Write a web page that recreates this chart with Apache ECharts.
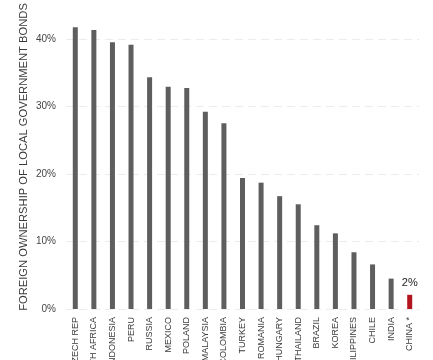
<!DOCTYPE html>
<html>
<head>
<meta charset="utf-8">
<script src="https://cdn.jsdelivr.net/npm/echarts@6/dist/echarts.min.js"></script>
<style>
html,body{margin:0;padding:0;background:#fff;}
#chart{width:433px;height:360px;}
</style>
</head>
<body>
<div id="chart"></div>
<script>
var categories = ['CZECH REP','SOUTH AFRICA','INDONESIA','PERU','RUSSIA','MEXICO','POLAND','MALAYSIA','COLOMBIA','TURKEY','ROMANIA','HUNGARY','THAILAND','BRAZIL','KOREA','PHILIPPINES','CHILE','INDIA','CHINA *'];
var values = [41.7, 41.3, 39.5, 39.1, 34.3, 32.9, 32.7, 29.2, 27.5, 19.4, 18.7, 16.7, 15.5, 12.4, 11.2, 8.4, 6.6, 4.5, 2.1];
var highlightIndex = 18;
var highlightLabel = '2%';
var yTitle = 'FOREIGN OWNERSHIP OF LOCAL GOVERNMENT BONDS';

var chart = echarts.init(document.getElementById('chart'), null, {renderer:'canvas'});
var data = values.map(function(v, i){
  if (i === highlightIndex) {
    return {value: v, itemStyle:{color:'#b3141d'}, label:{show:true, position:'top', distance:6, formatter: highlightLabel, fontSize:11, color:'#222', fontFamily:'Liberation Sans, Arial, sans-serif'}};
  }
  return v;
});
chart.setOption({
  animation:false,
  grid:{left:66, right:14, top:5, bottom:51, containLabel:false, outerBoundsMode:'none'},
  xAxis:{
    type:'category', data:categories, boundaryGap:true,
    axisLine:{show:false}, axisTick:{show:false},
    axisLabel:{rotate:90, interval:0, margin:8, fontSize:9, color:'#3a3a3a', fontFamily:'Liberation Sans, Arial, sans-serif', hideOverlap:false}
  },
  yAxis:{
    type:'value', min:0, max:45, interval:10,
    name: yTitle, nameLocation:'middle', nameRotate:90, nameGap:37, nameMoveOverlap:false,
    nameTextStyle:{fontSize:11.2, color:'#3a3a3a', fontFamily:'Liberation Sans, Arial, sans-serif'},
    axisLine:{show:false}, axisTick:{show:false},
    axisLabel:{showMaxLabel:false, margin:10, fontSize:10, color:'#444', fontFamily:'Liberation Sans, Arial, sans-serif', formatter:'{value}%'},
    splitLine:{show:true, showMaxLine:false, lineStyle:{color:'#ececec', type:[8,5], width:1}}
  },
  series:[{type:'bar', data:data, barWidth:5, itemStyle:{color:'#5e5e5e'}}]
});
</script>
</body>
</html>
